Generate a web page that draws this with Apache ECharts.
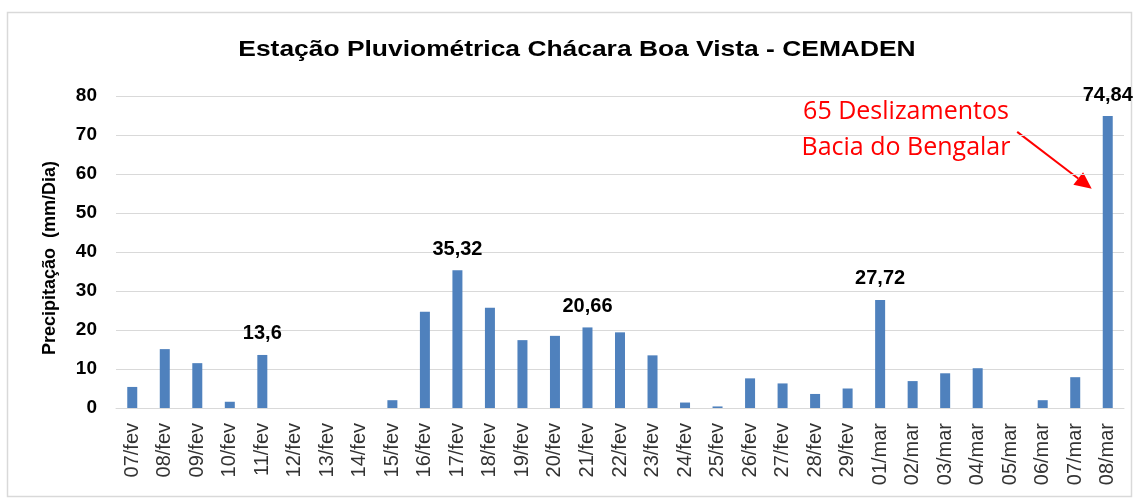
<!DOCTYPE html>
<html>
<head>
<meta charset="utf-8">
<script src="https://cdn.jsdelivr.net/npm/echarts@6/dist/echarts.min.js"></script>
<style>
  html, body { margin: 0; padding: 0; background: #fff; }
  #chart { width: 1139px; height: 500px; }
</style>
</head>
<body>
<div id="chart"></div>
<script>
// Daily rainfall, 07/fev – 08/mar
const days = ['07/fev','08/fev','09/fev','10/fev','11/fev','12/fev','13/fev','14/fev','15/fev','16/fev',
  '17/fev','18/fev','19/fev','20/fev','21/fev','22/fev','23/fev','24/fev','25/fev','26/fev','27/fev',
  '28/fev','29/fev','01/mar','02/mar','03/mar','04/mar','05/mar','06/mar','07/mar','08/mar'];
const rainfall = [5.4, 15.1, 11.5, 1.6, 13.6, 0, 0, 0, 2.0, 24.7,
  35.32, 25.7, 17.4, 18.5, 20.66, 19.4, 13.5, 1.4, 0.4, 7.6, 6.3,
  3.6, 5.0, 27.72, 6.9, 8.9, 10.2, 0, 2.0, 7.9, 74.84];
// days whose value is printed above the bar
const labelledDays = ['11/fev', '17/fev', '21/fev', '01/mar', '08/mar'];
const yTicks = { min: 0, max: 80, interval: 10 };
const titleText = 'Estação Pluviométrica Chácara Boa Vista - CEMADEN';
const axisTitle = 'Precipitação  (mm/Dia)';
const noteLines = ['65 Deslizamentos', 'Bacia do Bengalar'];

const fmt = v => String(v).replace('.', ',');
const FONT = 'Liberation Sans, Arial, sans-serif';

const chart = echarts.init(document.getElementById('chart'), null, { renderer: 'canvas' });

const option = {
  animation: false,
  backgroundColor: '#ffffff',
  grid: { left: 116, right: 15, top: 96, bottom: 92, containLabel: false },
  xAxis: {
    type: 'category',
    data: days,
    axisLine: { lineStyle: { color: '#d9d9d9', width: 1 } },
    axisTick: { show: false },
    axisLabel: {
      rotate: 90,
      interval: 0,
      margin: 15,
      fontFamily: FONT,
      fontSize: 20,
      color: '#333333'
    }
  },
  yAxis: {
    type: 'value',
    min: yTicks.min,
    max: yTicks.max,
    interval: yTicks.interval,
    axisLine: { show: false },
    axisTick: { show: false },
    axisLabel: {
      margin: 19,
      fontFamily: FONT,
      fontSize: 19,
      fontWeight: 'bold',
      color: '#000'
    },
    splitLine: { lineStyle: { color: '#d9d9d9', width: 1 } }
  },
  series: [{
    type: 'bar',
    data: rainfall.map((v, i) => ({
      value: v,
      label: {
        show: labelledDays.includes(days[i]),
        position: 'top',
        distance: 11,
        formatter: p => fmt(p.value),
        fontFamily: FONT,
        fontSize: 20,
        fontWeight: 'bold',
        color: '#000'
      }
    })),
    barWidth: 10,
    itemStyle: { color: '#4f81bd' }
  }],
  graphic: []
};

chart.setOption(option);

// frame, widened title, axis title, red note and the arrow pointing at the last bar
function drawExtras() {
  const tip = chart.convertToPixel({ xAxisIndex: 0, yAxisIndex: 0 }, ['08/mar', 56.2]);
  const tail = chart.convertToPixel({ xAxisIndex: 0, yAxisIndex: 0 }, ['05/mar', 70.8]);
  const tipX = tip[0] - 16, tipY = tip[1];
  const tailX = tail[0] + 7, tailY = tail[1];
  const ang = Math.atan2(tipY - tailY, tipX - tailX);
  const headLen = 17, headW = 8;
  const bx = tipX - headLen * Math.cos(ang), by = tipY - headLen * Math.sin(ang);
  const nx = -Math.sin(ang) * headW, ny = Math.cos(ang) * headW;

  chart.setOption({
    graphic: [
      {
        type: 'rect', silent: true, z: -1,
        shape: { x: 7.5, y: 12.5, width: 1124, height: 484 },
        style: { fill: 'none', stroke: '#d9d9d9', lineWidth: 1.5 }
      },
      {
        type: 'text', silent: true,
        x: 577, y: 50, scaleX: 1.2, scaleY: 1,
        style: {
          text: titleText, fill: '#000',
          font: 'bold 22px "Liberation Sans", Arial, sans-serif',
          align: 'center', verticalAlign: 'middle'
        }
      },
      {
        type: 'text', silent: true,
        x: 50, y: 258, rotation: Math.PI / 2,
        style: {
          text: axisTitle, fill: '#000',
          font: 'bold 18px "Liberation Sans", Arial, sans-serif',
          align: 'center', verticalAlign: 'middle'
        }
      },
      {
        type: 'text', silent: true,
        x: 906, y: 112,
        style: {
          text: noteLines[0], fill: '#ff0000',
          font: '25px "Open Sans", sans-serif', align: 'center', verticalAlign: 'middle'
        }
      },
      {
        type: 'text', silent: true,
        x: 906, y: 148,
        style: {
          text: noteLines[1], fill: '#ff0000',
          font: '25px "Open Sans", sans-serif', align: 'center', verticalAlign: 'middle'
        }
      },
      {
        type: 'line', silent: true,
        shape: { x1: tailX, y1: tailY, x2: bx, y2: by },
        style: { stroke: '#ff0000', lineWidth: 2 }
      },
      {
        type: 'polygon', silent: true,
        shape: { points: [[tipX, tipY], [bx + nx, by + ny], [bx - nx, by - ny]] },
        style: { fill: '#ff0000' }
      }
    ]
  });
}
drawExtras();
</script>
</body>
</html>
